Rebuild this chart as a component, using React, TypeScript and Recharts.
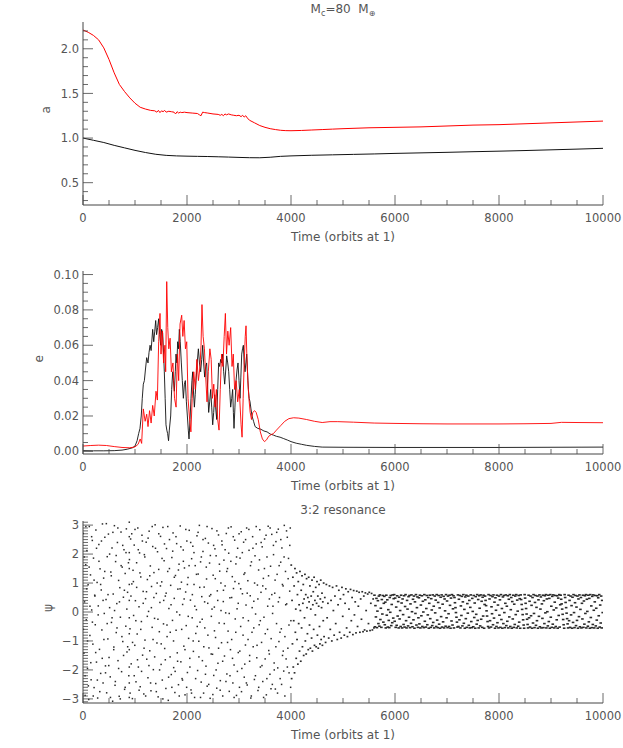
import React from 'react';
import { LineChart, Line, ScatterChart, Scatter, XAxis, YAxis } from 'recharts';

const FONT = '"DejaVu Sans", sans-serif';
const INK = '#555';
const FRAME = '#444';
const DOT = '#2a2a2a';

// time axis (orbits at 1)
const timeTicks = [0, 500, 1000, 1500, 2000, 2500, 3000, 3500, 4000, 4500, 5000, 5500, 6000, 6500, 7000, 7500, 8000, 8500, 9000, 9500, 10000];
const timeLabels = [0, 2000, 4000, 6000, 8000, 10000];

// panel 1: semi-major axis
const aTicks = [0.3, 0.4, 0.5, 0.6, 0.7, 0.8, 0.9, 1.0, 1.1, 1.2, 1.3, 1.4, 1.5, 1.6, 1.7, 1.8, 1.9, 2.0, 2.1, 2.2];
const aLabels = [0.5, 1.0, 1.5, 2.0];
const aOuter: [number, number][] = [
  [0, 2.21], [100, 2.185], [200, 2.15], [300, 2.1], [400, 2.01], [500, 1.88], [600, 1.73], [700, 1.6], [800, 1.52], [900, 1.45],
  [1000, 1.39], [1100, 1.345], [1200, 1.325], [1300, 1.31], [1380, 1.305], [1420, 1.29], [1450, 1.31], [1480, 1.285], [1510, 1.305], [1540, 1.295],
  [1570, 1.31], [1600, 1.29], [1650, 1.3], [1700, 1.295], [1750, 1.29], [1780, 1.27], [1810, 1.295], [1840, 1.28], [1870, 1.29], [1900, 1.285],
  [1950, 1.29], [2000, 1.285], [2100, 1.28], [2200, 1.275], [2240, 1.26], [2270, 1.25], [2300, 1.29], [2340, 1.285], [2400, 1.28], [2500, 1.27],
  [2600, 1.265], [2640, 1.255], [2670, 1.265], [2700, 1.25], [2730, 1.27], [2760, 1.26], [2800, 1.27], [2850, 1.26], [2900, 1.255], [2950, 1.25],
  [3000, 1.255], [3040, 1.24], [3070, 1.255], [3100, 1.235], [3130, 1.25], [3160, 1.225], [3200, 1.2], [3300, 1.17], [3400, 1.14], [3500, 1.12],
  [3600, 1.105], [3700, 1.095], [3800, 1.087], [3900, 1.083], [4000, 1.082], [4200, 1.085], [4400, 1.09], [4600, 1.095], [4800, 1.1], [5000, 1.105],
  [5500, 1.115], [6000, 1.12], [6500, 1.125], [7000, 1.135], [7500, 1.145], [8000, 1.15], [8500, 1.16], [9000, 1.17], [9500, 1.18], [10000, 1.19],
];
const aInner: [number, number][] = [
  [0, 1.0], [200, 0.975], [400, 0.95], [600, 0.918], [800, 0.89], [1000, 0.862], [1200, 0.838], [1400, 0.818], [1600, 0.806], [1800, 0.8],
  [2000, 0.797], [2200, 0.795], [2400, 0.793], [2600, 0.79], [2800, 0.787], [3000, 0.783], [3200, 0.78], [3400, 0.779], [3600, 0.785], [3800, 0.795],
  [4000, 0.8], [4400, 0.807], [4800, 0.812], [5200, 0.817], [5600, 0.822], [6000, 0.828], [6500, 0.834], [7000, 0.84], [7500, 0.847], [8000, 0.853],
  [8500, 0.86], [9000, 0.868], [9500, 0.876], [10000, 0.885],
];

// panel 2: eccentricity
const eTicks = Array.from({ length: 21 }, (_, i) => i * 0.005);
const eLabels = [0, 0.02, 0.04, 0.06, 0.08, 0.1];
const eOuter: [number, number][] = [
  [0, 0.003], [150, 0.0033], [300, 0.0035], [450, 0.0033], [600, 0.0027], [750, 0.0022], [900, 0.002], [1000, 0.0025], [1060, 0.004], [1100, 0.007],
  [1128, 0.0045], [1160, 0.024], [1195, 0.017], [1225, 0.021], [1250, 0.014], [1280, 0.023], [1310, 0.016], [1340, 0.026], [1370, 0.02], [1404, 0.034],
  [1430, 0.029], [1455, 0.062], [1481, 0.078], [1500, 0.055], [1525, 0.068], [1550, 0.05], [1575, 0.06], [1590, 0.045], [1610, 0.096], [1630, 0.07],
  [1650, 0.058], [1675, 0.064], [1700, 0.045], [1730, 0.05], [1760, 0.03], [1790, 0.025], [1815, 0.055], [1840, 0.04], [1866, 0.072], [1898, 0.077],
  [1920, 0.065], [1945, 0.074], [1970, 0.058], [1995, 0.062], [2020, 0.03], [2045, 0.02], [2075, 0.011], [2100, 0.03], [2130, 0.045], [2160, 0.035],
  [2190, 0.052], [2220, 0.04], [2250, 0.048], [2270, 0.06], [2288, 0.083], [2310, 0.065], [2335, 0.058], [2360, 0.042], [2385, 0.028], [2410, 0.045],
  [2440, 0.058], [2465, 0.052], [2490, 0.03], [2515, 0.038], [2540, 0.025], [2565, 0.035], [2590, 0.018], [2616, 0.012], [2640, 0.035], [2665, 0.055],
  [2690, 0.048], [2715, 0.065], [2738, 0.078], [2760, 0.055], [2785, 0.068], [2810, 0.06], [2840, 0.07], [2866, 0.048], [2890, 0.055], [2915, 0.035],
  [2945, 0.04], [2975, 0.028], [3005, 0.035], [3040, 0.015], [3059, 0.008], [3080, 0.03], [3100, 0.05], [3120, 0.065], [3135, 0.071], [3150, 0.055],
  [3170, 0.04], [3190, 0.03], [3215, 0.022], [3240, 0.018], [3265, 0.022], [3300, 0.023], [3330, 0.022], [3370, 0.018], [3410, 0.011], [3450, 0.007],
  [3490, 0.0055], [3530, 0.0065], [3570, 0.0085], [3620, 0.0095], [3660, 0.01], [3720, 0.012], [3800, 0.0145], [3880, 0.017], [3960, 0.0185], [4050, 0.019],
  [4150, 0.0188], [4300, 0.018], [4450, 0.017], [4600, 0.0163], [4750, 0.0168], [4900, 0.0168], [5200, 0.0165], [5600, 0.016], [6000, 0.0158], [6500, 0.0156],
  [7000, 0.0155], [7500, 0.0155], [8000, 0.0155], [8500, 0.0156], [9000, 0.0158], [9200, 0.0164], [9500, 0.0163], [10000, 0.0162],
];
const eInner: [number, number][] = [
  [0, 0.0004], [200, 0.0003], [400, 0.0003], [600, 0.0004], [750, 0.0007], [850, 0.0012], [950, 0.002], [1000, 0.003], [1040, 0.006], [1070, 0.01],
  [1096, 0.013], [1120, 0.02], [1140, 0.03], [1160, 0.038], [1180, 0.04], [1200, 0.046], [1225, 0.053], [1250, 0.05], [1270, 0.056], [1290, 0.06],
  [1310, 0.057], [1325, 0.063], [1340, 0.069], [1360, 0.062], [1380, 0.068], [1398, 0.074], [1415, 0.066], [1435, 0.07], [1455, 0.075], [1475, 0.066],
  [1494, 0.06], [1512, 0.069], [1532, 0.067], [1550, 0.055], [1564, 0.045], [1580, 0.03], [1596, 0.015], [1612, 0.012], [1628, 0.01], [1645, 0.006],
  [1660, 0.012], [1686, 0.02], [1705, 0.035], [1725, 0.045], [1740, 0.04], [1757, 0.034], [1775, 0.045], [1789, 0.055], [1805, 0.05], [1821, 0.062],
  [1838, 0.058], [1853, 0.069], [1870, 0.062], [1891, 0.05], [1910, 0.04], [1930, 0.03], [1950, 0.038], [1968, 0.04], [1988, 0.028], [2007, 0.02],
  [2025, 0.012], [2039, 0.007], [2058, 0.018], [2077, 0.03], [2095, 0.04], [2110, 0.045], [2126, 0.033], [2142, 0.025], [2158, 0.032], [2174, 0.04],
  [2196, 0.05], [2219, 0.058], [2240, 0.05], [2263, 0.045], [2283, 0.052], [2302, 0.06], [2320, 0.05], [2340, 0.042], [2360, 0.048], [2378, 0.05],
  [2398, 0.035], [2417, 0.022], [2436, 0.028], [2455, 0.035], [2475, 0.025], [2494, 0.015], [2513, 0.022], [2532, 0.032], [2550, 0.025], [2571, 0.018],
  [2590, 0.035], [2609, 0.05], [2628, 0.048], [2648, 0.052], [2667, 0.05], [2686, 0.055], [2705, 0.045], [2725, 0.038], [2745, 0.046], [2763, 0.054],
  [2783, 0.05], [2802, 0.045], [2821, 0.035], [2840, 0.025], [2860, 0.03], [2878, 0.035], [2892, 0.022], [2904, 0.013], [2922, 0.025], [2943, 0.04],
  [2962, 0.046], [2981, 0.05], [3000, 0.04], [3020, 0.03], [3036, 0.042], [3052, 0.055], [3068, 0.058], [3084, 0.06], [3100, 0.05], [3116, 0.045],
  [3132, 0.05], [3148, 0.055], [3164, 0.045], [3180, 0.035], [3196, 0.03], [3212, 0.028], [3230, 0.024], [3250, 0.02], [3280, 0.017], [3310, 0.014],
  [3360, 0.013], [3420, 0.0125], [3480, 0.0115], [3540, 0.011], [3600, 0.0098], [3660, 0.0092], [3720, 0.0085], [3790, 0.008], [3860, 0.0072], [3930, 0.0064],
  [4000, 0.0055], [4100, 0.0046], [4200, 0.004], [4300, 0.0034], [4450, 0.0028], [4600, 0.0024], [5000, 0.0023], [6000, 0.0022], [7000, 0.0022], [8000, 0.0022],
  [9000, 0.0023], [10000, 0.0024],
];

// panel 3: resonant angle psi
const psiTicks = Array.from({ length: 63 }, (_, i) => (i - 31) / 10);
const psiLabels = [-3, -2, -1, 0, 1, 2, 3];
const psiCirculating: [number, number][] = [
  [5, 2.71], [18, -1.42], [30, 0.35], [41, -2.88], [52, 1.63], [63, -0.27], [75, 2.12], [86, -1.95], [98, 0.94], [110, -3.02],
  [121, 2.95], [133, -0.81], [144, 1.28], [156, -2.34], [167, 0.07], [179, 2.47], [190, -1.11], [202, 1.86], [213, -2.61], [225, 0.58],
  [236, -0.44], [248, 2.83], [259, -1.73], [271, 1.02], [282, -2.97], [294, 0.21], [305, 2.33], [317, -1.29], [328, 1.49], [340, -2.12],
  [351, 0.76], [363, -0.62], [374, 3.04], [386, -2.45], [397, 1.17], [409, -0.05], [420, 2.58], [432, -1.86], [443, 0.43], [455, -2.79],
  [466, 1.91], [478, -0.93], [489, 2.69], [501, -1.57], [512, 0.15], [524, -2.24], [535, 1.38], [547, -0.36], [558, 2.21], [570, -3.08],
  [581, 0.62], [593, -1.21], [604, 2.98], [616, -2.53], [627, 1.74], [639, -0.71], [650, 0.29], [662, 2.4], [673, -1.68], [685, 1.09],
  [696, -2.91], [708, 0.84], [719, -0.18], [731, 2.76], [742, -2.06], [754, 1.55], [765, -1.02], [777, 0.51], [788, 2.15], [800, -2.67],
  [811, 1.33], [823, -0.49], [834, 2.87], [846, -1.38], [857, 0.68], [881, -2.2], [893, 1.81], [904, -0.58], [916, 2.52], [927, -1.79],
  [890, -2.95], [890, -2.45], [890, -1.9], [890, -1.3], [890, -0.75], [890, -0.2], [890, 0.4], [890, 0.95], [890, 1.5], [890, 2.05], [890, 2.6], [890, 3.1],
  [939, 0.97], [950, -2.99], [962, 1.44], [973, -0.12], [985, 2.31], [996, -1.15], [1008, 0.39], [1019, -2.41], [1031, 1.7], [1042, -0.76],
  [1054, 2.9], [1065, -1.9], [1077, 0.18], [1088, 2.04], [1100, -2.58], [1111, 1.21], [1123, -0.33], [1134, 2.65], [1146, -1.49], [1157, 0.71],
  [1169, -2.83], [1180, 1.98], [1192, -0.97], [1203, 0.46], [1215, 2.41], [1226, -1.63], [1238, 1.12], [1249, -2.27], [1261, 0.02], [1272, 2.79],
  [1284, -1.34], [1295, 1.59], [1307, -2.72], [1318, 0.88], [1330, -0.53], [1341, 2.26], [1353, -1.99], [1364, 1.36], [1376, -0.22], [1387, 3.01],
  [1399, -2.47], [1410, 0.64], [1422, -1.07], [1433, 2.08], [1445, -2.93], [1456, 1.47], [1468, -0.68], [1479, 0.33], [1491, 2.61], [1502, -1.81],
  [1514, 1.04], [1525, -2.35], [1537, 2.92], [1548, -0.41], [1560, 1.77], [1571, -1.26], [1583, 0.55], [1594, -2.64], [1606, 2.19], [1617, -0.85],
  [1629, 1.4], [1640, -3.05], [1652, 0.12], [1663, 2.5], [1675, -1.55], [1686, 0.92], [1698, -2.16], [1709, 1.88], [1721, -0.29], [1732, 2.73],
  [1744, -1.92], [1755, 0.47], [1767, -2.78], [1778, 1.26], [1790, -0.63], [1801, 2.36], [1813, -1.41], [1824, 0.79], [1836, -2.51], [1847, 1.65],
  [1859, -0.1], [1870, 2.97], [1882, -1.72], [1893, 1.03], [1905, -2.3], [1916, 0.26], [1928, 2.14], [1939, -1.18], [1951, 1.52], [1962, -2.86],
  [1974, 0.69], [1985, -0.47], [1997, 2.45], [2008, -2.09], [2020, 1.19], [2031, -0.91], [2043, 2.82], [2054, -1.6], [2066, 0.41], [2077, -2.69],
  [2089, 1.84], [2100, -0.2], [2112, 2.27], [2123, -1.36], [2135, 0.95], [2146, -2.95], [2158, 1.6], [2169, -0.74], [2181, 0.08], [2192, 2.63],
  [2204, -2.02], [2215, 1.31], [2227, -1.01], [2238, 2.99], [2250, -0.35], [2261, 1.73], [2273, -2.42], [2284, 0.53], [2296, -1.68], [2307, 2.09],
  [2319, -2.8], [2330, 0.86], [2342, -0.55], [2353, 2.54], [2365, -1.87], [2376, 1.14], [2388, -2.56], [2399, 0.3], [2411, 2.38], [2422, -1.24],
  [2434, 1.69], [2445, -2.98], [2457, 0.6], [2468, -0.15], [2480, 2.88], [2491, -1.46], [2503, 1.27], [2514, -2.19], [2526, 0.17], [2537, 2.18],
  [2549, -0.88], [2560, 1.94], [2572, -2.63], [2583, 0.73], [2595, -1.77], [2606, 2.66], [2618, -0.38], [2629, 1.41], [2641, -2.37], [2652, 1.0],
  [2664, -1.06], [2675, 2.32], [2687, -2.9], [2698, 0.36], [2710, 1.79], [2721, -1.52], [2733, 0.9], [2744, -0.03], [2756, 2.71], [2767, -2.14],
  [2779, 1.5], [2790, -0.66], [2802, 2.03], [2813, -2.74], [2825, 0.49], [2836, -1.3], [2848, 2.94], [2859, -0.95], [2871, 1.22], [2882, -2.45],
  [2894, 0.81], [2905, -1.83], [2917, 2.48], [2928, -0.24], [2940, 1.66], [2951, -2.88], [2963, 0.11], [2974, 2.2], [2986, -1.4], [2997, 0.98],
  [3009, -2.6], [3020, 1.86], [3032, -0.5], [3043, 2.77], [3055, -1.95], [3066, 0.63], [3078, -0.8], [3089, 2.41], [3101, -2.25], [3112, 1.35],
  [3124, -1.14], [3135, 0.24], [3147, 2.9], [3158, -2.52], [3170, 1.08], [3181, -0.3], [3193, 2.13], [3204, -1.7], [3216, 0.56], [3227, -2.97],
  [3239, 1.73], [3250, -0.7], [3262, 2.6], [3273, -1.2], [3285, 0.37], [3296, -2.33], [3308, 1.94], [3319, -0.07], [3331, 2.35], [3342, -1.58],
  [3354, 0.93], [3365, -2.71], [3377, 1.45], [3388, -0.44], [3400, 2.84], [3411, -1.9], [3423, 0.68], [3434, -1.05], [3446, 2.25], [3457, -2.4],
  [3469, 1.16], [3480, -0.18], [3492, 2.52], [3503, -1.62], [3515, 0.8], [3526, -2.86], [3538, 1.9], [3549, -0.6], [3561, 2.96], [3572, -1.33],
  [3584, 0.45], [3595, -2.15], [3607, 1.58], [3618, -0.92], [3630, 2.68], [3641, -2.5], [3653, 0.2], [3664, 1.98], [3676, -1.76], [3687, 0.65],
  [3699, -2.66], [3710, 2.43], [3722, -0.4], [3733, 1.3], [3745, -1.93], [3756, 2.86], [3768, -1.02], [3779, 0.5], [3791, -2.3], [3802, 1.72],
  [3814, -0.58], [3825, 2.21], [3837, -1.5], [3848, 0.9], [3860, -2.04], [3871, 2.99], [3883, -0.85], [3894, 1.4], [3906, -1.62], [3917, 0.28],
  [3929, 2.58], [3940, -1.25], [3952, 1.85], [3963, -2.1], [3975, 0.72], [3986, 2.9], [3998, -0.3],
  [8, -0.6], [24, 1.9], [40, -2.2], [55, 2.95], [71, 0.8], [87, -1.0], [103, -2.55], [118, 1.55], [134, 0.2], [150, -1.75],
  [166, 2.6], [181, -0.35], [197, -2.9], [213, 1.1], [229, 0.55], [244, -1.4], [260, 2.2], [276, -2.35], [292, -0.1], [307, 1.75],
  [323, -2.75], [339, 0.95], [355, 2.45], [370, -1.6], [386, 0.4], [402, -0.95], [418, 1.4], [433, -2.1], [449, 3.05], [465, -0.4],
  [481, 0.6], [496, -1.85], [512, 2.0], [528, -2.95], [544, 1.25], [559, -0.2], [575, 2.75], [591, -1.3], [607, 0.05], [622, -2.4],
  [638, 1.95], [654, -0.55], [670, 2.9], [685, -1.95], [701, 0.35], [717, -3.0], [733, 1.6], [748, -0.85], [764, 2.3], [780, -1.5],
  [796, 0.75], [811, -2.6], [827, 2.05], [843, 0.1], [859, -1.2], [874, 1.7], [906, -2.8], [922, 0.55], [937, 2.7], [953, -1.05],
  [969, 1.05], [985, -2.2], [1000, 2.85], [1016, -0.3], [1032, 0.85], [1048, -1.65], [1063, 2.15], [1079, -2.7], [1095, 1.35], [1111, -0.6],
  [1126, -2.05], [1142, 2.45], [1158, 0.3], [1174, -1.25], [1189, 1.9], [1205, -2.9], [1221, 0.7], [1237, -0.15], [1252, 2.55], [1268, -1.85],
  [1284, 1.25], [1300, -2.45], [1315, 0.15], [1331, 2.95], [1347, -0.95], [1363, 0.5], [1378, -1.55], [1394, 2.2], [1410, -2.75], [1426, 1.0],
  [1441, -0.25], [1457, 2.7], [1473, -2.0], [1489, 0.9], [1504, -1.1], [1520, 1.85], [1536, -3.0], [1552, 0.4], [1567, 2.35], [1583, -1.65],
  [1599, 0.65], [1615, -0.45], [1630, 2.95], [1646, -2.25], [1662, 1.5], [1678, -0.7], [1693, 0.25], [1709, -2.6], [1725, 2.1], [1741, -1.0],
  [1756, 1.2], [1772, -2.05], [1788, 2.6], [1804, 0.0], [1819, -1.7], [1835, 1.45], [1851, -2.9], [1867, 0.8], [1882, 2.25], [1898, -0.6],
  [1914, -2.35], [1930, 1.75], [1945, 0.45], [1961, -1.3], [1977, 2.85], [1993, -2.6], [2008, 0.95], [2024, -0.15], [2040, 1.6], [2056, -1.9],
  [2071, 2.4], [2087, -2.8], [2103, 0.6], [2119, -1.0], [2134, 2.05], [2150, 0.2], [2166, -2.3], [2182, 1.3], [2197, -0.5], [2213, 2.75],
  [2229, -1.55], [2245, 0.85], [2260, -2.95], [2276, 1.9], [2292, -0.25], [2308, 2.5], [2323, -1.2], [2339, 0.35], [2355, -2.15], [2371, 1.55],
  [2386, 2.95], [2402, -0.8], [2418, -2.5], [2434, 0.55], [2449, 1.95], [2465, -1.45], [2481, 0.1], [2497, -2.85], [2512, 2.3], [2528, -0.65],
  [2544, 1.15], [2560, -2.0], [2575, 2.8], [2591, 0.4], [2607, -1.25], [2623, 1.65], [2638, -2.7], [2654, 0.05], [2670, 2.45], [2686, -1.7],
  [2701, 0.75], [2717, -0.4], [2733, 2.15], [2749, -2.4], [2764, 1.4], [2780, -1.05], [2796, 2.9], [2812, -0.05], [2827, -2.2], [2843, 1.75],
  [2859, 0.5], [2875, -1.6], [2890, 2.6], [2906, -2.95], [2922, 1.05], [2938, -0.7], [2953, 1.9], [2969, -2.05], [2985, 0.3], [3001, 2.7],
  [3016, -1.35], [3032, 0.8], [3048, -2.75], [3064, 2.05], [3079, -0.2], [3095, 1.3], [3111, -1.8], [3127, 2.5], [3142, -2.45], [3158, 0.65],
  [3174, -0.95], [3190, 2.85], [3205, -1.5], [3221, 1.6], [3237, -2.9], [3253, 0.15], [3268, 2.2], [3284, -0.55], [3300, 1.0], [3316, -2.2],
  [3331, 2.95], [3347, -1.15], [3363, 0.45], [3379, -2.6], [3394, 1.8], [3410, -0.3], [3426, 2.4], [3442, -1.85], [3457, 0.9], [3473, -2.95],
  [3489, 1.5], [3505, -0.75], [3520, 2.65], [3536, -2.3], [3552, 0.2], [3568, 1.25], [3583, -1.45], [3599, 2.9], [3615, -2.65], [3631, 0.6],
  [3646, -0.05], [3662, 2.3], [3678, -2.0], [3694, 1.1], [3709, -1.2], [3725, 2.75], [3741, -2.8], [3757, 0.35], [3772, 1.6], [3788, -0.7],
  [3804, 2.5], [3819, -2.5], [3835, 0.95], [3851, -1.35], [3867, 1.9], [3882, -2.9], [3898, 0.25], [3914, 2.8], [3930, -1.9], [3945, 1.15],
  [3961, -0.45], [3977, 2.3], [3993, -2.6],
];
const psiCapture: [number, number][] = [
  [4005, 1.62], [4012, -2.3], [4020, 0.4], [4028, -1.1], [4036, 1.2], [4044, -1.9], [4052, -0.3], [4060, 0.9], [4068, -2.1], [4076, 1.5],
  [4084, -0.7], [4092, 0.1], [4100, -1.6], [4108, 1.35], [4116, -0.95], [4124, 0.6], [4132, -1.8], [4140, 1.05], [4148, -0.4], [4156, 0.25],
  [4164, -1.35], [4172, 1.4], [4180, 0.05], [4188, -1.7], [4196, 0.75], [4204, -0.55], [4212, 1.25], [4220, -1.2], [4228, 0.3], [4236, 0.95],
  [4244, -1.5], [4252, 0.45], [4260, -0.2], [4268, 1.3], [4276, -1.0], [4284, 0.6], [4292, -1.45], [4300, 1.15], [4308, 0.15], [4316, -0.75],
  [4324, 0.5], [4332, -1.3], [4340, 1.2], [4348, 0.35], [4356, -0.45], [4364, 0.9], [4372, -1.25], [4380, 0.1], [4388, 0.55], [4396, -0.9],
  [4404, 1.1], [4412, -1.35], [4420, 0.25], [4428, 0.7], [4436, -0.6], [4444, 1.2], [4452, -1.15], [4460, 0.4], [4468, -0.1], [4476, 0.85],
  [4484, -1.2], [4492, 0.3], [4500, 1.05], [4508, -0.8], [4516, 0.55], [4524, -1.25], [4532, 0.2], [4540, 0.95], [4548, -0.5], [4556, -1.1],
  [4564, 0.45], [4572, 1.1], [4580, -0.95], [4588, 0.15], [4596, 0.65], [4604, -1.15], [4612, 0.35], [4620, -0.3], [4628, 1.0], [4636, -0.85],
  [4650, 0.5], [4665, -1.05], [4680, 0.95], [4695, -0.2], [4710, 0.3], [4725, -0.9], [4740, 0.9], [4755, -0.6], [4770, 0.4], [4785, -1.0],
  [4800, 0.85], [4815, 0.05], [4830, -0.8], [4845, 0.55], [4860, -0.4], [4875, 0.9], [4890, -0.95], [4905, 0.25], [4920, 0.75], [4935, -0.7],
  [4950, 0.45], [4965, -0.9], [4980, 0.85], [4995, -0.15], [5010, 0.6], [5025, -0.8], [5040, 0.3], [5055, 0.8], [5070, -0.55], [5085, -0.85],
  [5100, 0.7], [5115, 0.1], [5130, -0.7], [5145, 0.78], [5160, -0.3], [5175, 0.5], [5190, -0.78], [5205, 0.74], [5220, -0.1], [5235, 0.35],
  [5250, -0.72], [5265, 0.72], [5280, -0.5], [5295, 0.2], [5310, 0.68], [5325, -0.7], [5340, 0.45], [5355, -0.25], [5370, 0.7], [5385, -0.68],
  [5400, 0.55], [5415, -0.62], [5430, 0.66], [5445, 0.05], [5460, -0.66], [5475, 0.62], [5490, -0.4], [5505, 0.68], [5520, -0.64], [5535, 0.3],
  [5550, 0.64], [5565, -0.62], [5580, 0.45], [5595, -0.55],
];
const psiLibrating: [number, number][] = [
  [5605, 0.58], [5614, -0.51], [5624, 0.22], [5633, -0.17], [5643, 0.47], [5652, -0.54], [5662, 0.03], [5671, 0.39], [5681, -0.4], [5690, 0.55],
  [5700, -0.49], [5709, 0.59], [5719, -0.26], [5728, 0.13], [5738, -0.53], [5747, 0.43], [5757, -0.07], [5766, 0.57], [5776, -0.35], [5785, 0.3],
  [5795, 0.54], [5804, -0.44], [5814, 0.34], [5823, -0.55], [5833, 0.58], [5842, -0.11], [5852, 0.42], [5861, -0.52], [5871, 0.08], [5880, -0.29],
  [5890, -0.54], [5899, 0.5], [5909, -0.01], [5918, 0.57], [5928, -0.47], [5937, 0.26], [5947, -0.37], [5956, 0.59], [5966, -0.21], [5975, 0.46],
  [5985, 0.6], [5994, -0.32], [6004, 0.48], [6013, -0.53], [6023, 0.17], [6032, -0.46], [6042, 0.56], [6051, -0.14], [6061, 0.36], [6070, -0.55],
  [6080, 0.51], [6089, -0.24], [6099, 0.05], [6108, -0.5], [6118, 0.58], [6127, 0.31], [6137, -0.55], [6146, 0.45], [6156, -0.09], [6165, -0.43],
  [6175, 0.56], [6184, -0.52], [6194, 0.19], [6203, 0.6], [6213, -0.3], [6222, -0.55], [6232, 0.4], [6241, 0.1], [6251, -0.48], [6260, 0.53],
  [6270, -0.18], [6279, 0.57], [6289, -0.54], [6298, 0.28], [6308, -0.39], [6317, 0.59], [6327, 0.01], [6336, -0.51], [6346, 0.44], [6355, -0.27],
  [6365, 0.55], [6374, -0.56], [6384, 0.35], [6393, -0.05], [6403, 0.6], [6412, -0.45], [6422, 0.15], [6431, 0.52], [6441, -0.53], [6450, -0.2],
  [6460, 0.49], [6469, -0.41], [6479, 0.58], [6488, -0.55], [6498, 0.24], [6507, -0.13], [6517, 0.56], [6526, -0.5], [6536, 0.37], [6545, 0.0],
  [6555, -0.54], [6564, 0.6], [6574, -0.32], [6583, 0.42], [6593, -0.52], [6602, 0.12], [6612, 0.57], [6621, -0.44], [6631, -0.1], [6640, 0.5],
  [6650, -0.56], [6659, 0.3], [6669, 0.58], [6678, -0.23], [6688, -0.53], [6697, 0.46], [6707, 0.07], [6716, -0.47], [6726, 0.59], [6735, -0.36],
  [6745, 0.2], [6754, -0.55], [6764, 0.55], [6773, -0.03], [6783, 0.41], [6792, -0.5], [6802, 0.6], [6811, -0.28], [6821, -0.54], [6830, 0.33],
  [6840, 0.57], [6849, -0.42], [6859, 0.14], [6868, -0.56], [6878, 0.51], [6887, -0.16], [6897, 0.59], [6906, -0.52], [6916, 0.27], [6925, -0.34],
  [6935, 0.54], [6944, -0.55], [6954, 0.45], [6963, 0.04], [6973, -0.49], [6982, 0.6], [6992, -0.2], [7001, 0.38], [7011, -0.54], [7020, 0.55],
  [7030, -0.06], [7039, -0.5], [7049, 0.58], [7058, 0.23], [7068, -0.56], [7077, 0.48], [7087, -0.31], [7096, 0.6], [7106, -0.45], [7115, 0.11],
  [7125, 0.56], [7134, -0.55], [7144, 0.5], [7153, 0.32], [7163, 0.15], [7172, -0.02], [7182, -0.18], [7191, -0.35], [7201, -0.52], [7210, 0.59],
  [7220, -0.5], [7229, 0.44], [7239, -0.27], [7248, 0.57], [7258, -0.55], [7267, 0.21], [7277, -0.12], [7286, 0.54], [7296, -0.48], [7305, 0.35],
  [7315, 0.6], [7324, -0.39], [7334, 0.09], [7343, -0.56], [7353, 0.52], [7362, -0.23], [7372, 0.58], [7381, -0.53], [7391, 0.29], [7400, -0.04],
  [7410, 0.55], [7419, -0.46], [7429, 0.4], [7438, -0.55], [7448, 0.16], [7457, 0.59], [7467, -0.33], [7476, -0.54], [7486, 0.47], [7495, 0.02],
  [7505, -0.51], [7514, 0.57], [7524, -0.19], [7533, 0.31], [7543, -0.56], [7552, 0.53], [7562, -0.08], [7571, -0.42], [7581, 0.6], [7590, -0.29],
  [7600, 0.43], [7609, -0.55], [7619, 0.56], [7628, 0.13], [7638, -0.48], [7647, 0.59], [7657, -0.25], [7666, 0.37], [7676, -0.53], [7685, 0.51],
  [7695, -0.14], [7704, 0.58], [7714, -0.56], [7723, 0.26], [7733, 0.55], [7742, 0.4], [7752, 0.22], [7761, 0.04], [7771, -0.14], [7780, -0.33],
  [7790, -0.5], [7799, 0.6], [7809, -0.55], [7818, 0.45], [7828, -0.3], [7837, 0.57], [7847, -0.52], [7856, 0.18], [7866, -0.06], [7875, 0.53],
  [7885, -0.44], [7894, 0.59], [7904, -0.21], [7913, 0.34], [7923, -0.56], [7932, 0.49], [7942, 0.06], [7951, -0.5], [7961, 0.58], [7970, -0.37],
  [7980, 0.24], [7989, -0.55], [7999, 0.55], [8008, -0.11], [8018, 0.42], [8027, -0.53], [8037, 0.6], [8046, -0.26], [8056, 0.12], [8065, -0.56],
  [8075, 0.52], [8084, -0.4], [8094, 0.57], [8103, -0.02], [8113, -0.54], [8122, 0.3], [8132, 0.59], [8141, -0.47], [8151, 0.2], [8160, -0.32],
  [8170, 0.56], [8179, -0.55], [8189, 0.44], [8198, -0.17], [8208, 0.6], [8217, -0.5], [8227, 0.08], [8236, 0.5], [8246, -0.56], [8255, 0.36],
  [8265, -0.24], [8274, 0.58], [8284, -0.53], [8293, 0.27], [8303, -0.43], [8312, 0.55], [8322, -0.09], [8331, 0.6], [8341, -0.55], [8350, 0.41],
  [8360, 0.03], [8369, -0.49], [8379, 0.57], [8388, -0.35], [8398, 0.46], [8407, -0.56], [8417, 0.59], [8426, 0.43], [8436, 0.26], [8445, 0.09],
  [8455, -0.09], [8464, -0.27], [8474, -0.45], [8483, -0.56], [8493, 0.6], [8502, 0.48], [8512, 0.3], [8521, 0.12], [8531, -0.07], [8540, -0.25],
  [8550, -0.43], [8559, -0.55], [8569, 0.58], [8578, -0.2], [8588, 0.37], [8597, -0.52], [8607, 0.55], [8616, -0.13], [8626, 0.23], [8635, -0.56],
  [8645, 0.5], [8654, -0.38], [8664, 0.6], [8673, -0.05], [8683, -0.54], [8692, 0.33], [8702, 0.57], [8711, -0.46], [8721, 0.16], [8730, -0.3],
  [8740, 0.55], [8749, -0.56], [8759, 0.42], [8768, -0.15], [8778, 0.59], [8787, -0.51], [8797, 0.1], [8806, 0.52], [8816, -0.55], [8825, 0.28],
  [8835, -0.22], [8844, 0.58], [8854, -0.54], [8863, 0.39], [8873, -0.4], [8882, 0.56], [8892, -0.03], [8901, 0.6], [8911, -0.55], [8920, 0.45],
  [8930, 0.01], [8939, -0.48], [8949, 0.58], [8958, -0.33], [8968, 0.47], [8977, -0.56], [8987, 0.6], [8996, -0.18], [9006, 0.2], [9015, -0.53],
  [9025, 0.54], [9034, -0.42], [9044, 0.59], [9053, 0.07], [9063, -0.55], [9072, 0.34], [9082, 0.57], [9091, -0.5], [9101, 0.14], [9110, -0.27],
  [9120, 0.56], [9129, -0.56], [9139, 0.48], [9148, -0.12], [9158, 0.6], [9167, -0.52], [9177, 0.25], [9186, 0.58], [9196, 0.44], [9205, 0.28],
  [9215, 0.1], [9224, -0.08], [9234, -0.26], [9243, -0.44], [9253, -0.56], [9262, 0.6], [9272, 0.5], [9281, 0.33], [9291, 0.15], [9300, -0.04],
  [9310, -0.23], [9319, -0.41], [9329, -0.55], [9338, 0.58], [9348, -0.3], [9357, 0.4], [9367, -0.53], [9376, 0.55], [9386, -0.1], [9395, 0.22],
  [9405, -0.56], [9414, 0.51], [9424, -0.36], [9433, 0.6], [9443, -0.02], [9452, -0.54], [9462, 0.32], [9471, 0.57], [9481, -0.47], [9490, 0.17],
  [9500, -0.29], [9509, 0.55], [9519, -0.56], [9528, 0.45], [9538, -0.16], [9547, 0.59], [9557, -0.51], [9566, 0.09], [9576, 0.5], [9585, -0.55],
  [9595, 0.3], [9604, -0.24], [9614, 0.58], [9623, -0.53], [9633, 0.38], [9642, -0.42], [9652, 0.56], [9661, -0.05], [9671, 0.6], [9680, -0.55],
  [9690, 0.44], [9699, 0.02], [9709, -0.49], [9718, 0.58], [9728, -0.34], [9737, 0.47], [9747, -0.56], [9756, 0.6], [9766, -0.19], [9775, 0.21],
  [9785, -0.54], [9794, 0.54], [9804, -0.43], [9813, 0.59], [9823, 0.06], [9832, -0.55], [9842, 0.35], [9851, 0.57], [9861, -0.48], [9870, 0.13],
  [9880, -0.28], [9889, 0.56], [9899, -0.56], [9908, 0.49], [9918, -0.13], [9927, 0.6], [9937, -0.52], [9946, 0.24], [9956, -0.38], [9965, 0.55],
  [9975, -0.55], [9984, 0.4], [9994, -0.02],
];

const toRows = (pts: [number, number][]) => pts.map(([t, v]) => ({ t, v }));
const isIn = (list: number[], v: number) => list.some((m) => Math.abs(m - v) < 1e-9);
const minus = (s: string) => s.replace('-', '\u2212');

const textStyle = { fontFamily: FONT, fontSize: 11.5, fill: INK };

// IDL-style frame: ticks point inward on all four sides, labels only bottom/left
const bottomTick = (labels: number[]) => (p: any) => {
  const major = isIn(labels, p.payload.value);
  return (
    <g>
      <line x1={p.x} x2={p.x} y1={p.y} y2={p.y - (major ? 10 : 5)} stroke={FRAME} strokeWidth={0.8} />
      {major && (
        <text x={p.x} y={p.y + 17} textAnchor="middle" {...textStyle}>
          {p.payload.value}
        </text>
      )}
    </g>
  );
};
const topTick = (labels: number[]) => (p: any) => {
  const major = isIn(labels, p.payload.value);
  return <line x1={p.x} x2={p.x} y1={p.y} y2={p.y + (major ? 10 : 5)} stroke={FRAME} strokeWidth={0.8} />;
};
const leftTick = (labels: number[], fmt: (v: number) => string) => (p: any) => {
  const major = isIn(labels, p.payload.value);
  return (
    <g>
      <line x1={p.x} x2={p.x + (major ? 10 : 5)} y1={p.y} y2={p.y} stroke={FRAME} strokeWidth={0.8} />
      {major && (
        <text x={p.x - 4} y={p.y} dy="0.36em" textAnchor="end" {...textStyle}>
          {minus(fmt(p.payload.value))}
        </text>
      )}
    </g>
  );
};
const rightTick = (labels: number[]) => (p: any) => {
  const major = isIn(labels, p.payload.value);
  return <line x1={p.x} x2={p.x - (major ? 10 : 5)} y1={p.y} y2={p.y} stroke={FRAME} strokeWidth={0.8} />;
};

type FrameOpts = {
  yDomain: [number, number];
  yTicks: number[];
  yLabels: number[];
  yFmt: (v: number) => string;
  yTitle: string;
  yTitleOffset: number;
  xHeight: number;
  xTitleOffset: number;
};

function frameAxes(o: FrameOpts) {
  const line = { stroke: FRAME, strokeWidth: 1 };
  return [
    <XAxis
      key="xb"
      xAxisId={0}
      type="number"
      dataKey="t"
      domain={[0, 10000]}
      allowDataOverflow
      ticks={timeTicks}
      interval={0}
      height={o.xHeight}
      tickSize={0}
      tickMargin={0}
      tickLine={false}
      axisLine={line}
      tick={bottomTick(timeLabels)}
      label={{ value: 'Time (orbits at 1)', position: 'insideBottom', offset: o.xTitleOffset, fill: INK, fontSize: 12, fontFamily: FONT }}
    />,
    <XAxis
      key="xt"
      xAxisId="top"
      orientation="top"
      type="number"
      domain={[0, 10000]}
      allowDataOverflow
      ticks={timeTicks}
      interval={0}
      height={0}
      tickSize={0}
      tickMargin={0}
      tickLine={false}
      axisLine={line}
      tick={topTick(timeLabels)}
    />,
    <YAxis
      key="yl"
      yAxisId={0}
      type="number"
      dataKey="v"
      domain={o.yDomain}
      allowDataOverflow
      ticks={o.yTicks}
      interval={0}
      width={50}
      tickSize={0}
      tickMargin={0}
      tickLine={false}
      axisLine={line}
      tick={leftTick(o.yLabels, o.yFmt)}
      label={{ value: o.yTitle, angle: -90, position: 'insideLeft', offset: o.yTitleOffset, fill: INK, fontSize: 12, fontFamily: FONT }}
    />,
    <YAxis
      key="yr"
      yAxisId="right"
      orientation="right"
      type="number"
      domain={o.yDomain}
      allowDataOverflow
      ticks={o.yTicks}
      interval={0}
      width={0}
      tickSize={0}
      tickMargin={0}
      tickLine={false}
      axisLine={line}
      tick={rightTick(o.yLabels)}
    />,
  ];
}

const dotShape = (w: number, h: number) => (p: any) => (
  <rect x={p.cx - w / 2} y={p.cy - h / 2} width={w} height={h} fill={DOT} />
);

const titleStyle = (top: number): React.CSSProperties => ({
  position: 'absolute',
  left: 83,
  width: 520,
  top,
  textAlign: 'center',
  fontFamily: FONT,
  fontSize: 12,
  lineHeight: '14px',
  color: INK,
  whiteSpace: 'pre',
});
const subStyle: React.CSSProperties = { fontSize: 8, position: 'relative', top: 3, verticalAlign: 'baseline' };

export default function App() {
  return (
    <div style={{ position: 'absolute', left: 0, top: 0, width: 623, height: 748, background: '#fff' }}>
      <div style={titleStyle(2)}>
        M<span style={subStyle}>c</span>=80  M<span style={subStyle}>⊕</span>
      </div>
      <div style={{ position: 'absolute', left: 0, top: 0 }}>
        <LineChart width={623} height={250} margin={{ top: 22, right: 20, bottom: 0, left: 33 }}>
          {frameAxes({
            yDomain: [0.25, 2.3],
            yTicks: aTicks,
            yLabels: aLabels,
            yFmt: (v) => v.toFixed(1),
            yTitle: 'a',
            yTitleOffset: 13,
            xHeight: 45,
            xTitleOffset: 9,
          })}
          <Line data={toRows(aInner)} dataKey="v" stroke="#111" strokeWidth={1} dot={false} isAnimationActive={false} />
          <Line data={toRows(aOuter)} dataKey="v" stroke="#ff0000" strokeWidth={1} dot={false} isAnimationActive={false} />
        </LineChart>
      </div>
      <div style={{ position: 'absolute', left: 0, top: 250 }}>
        <LineChart width={623} height={245} margin={{ top: 21, right: 20, bottom: 0, left: 33 }}>
          {frameAxes({
            yDomain: [-0.0015, 0.102],
            yTicks: eTicks,
            yLabels: eLabels,
            yFmt: (v) => v.toFixed(2),
            yTitle: 'e',
            yTitleOffset: 6,
            xHeight: 41,
            xTitleOffset: 5,
          })}
          <Line data={toRows(eInner)} dataKey="v" stroke="#111" strokeWidth={0.9} dot={false} isAnimationActive={false} />
          <Line data={toRows(eOuter)} dataKey="v" stroke="#ff0000" strokeWidth={0.9} dot={false} isAnimationActive={false} />
        </LineChart>
      </div>
      <div style={titleStyle(503)}>3:2 resonance</div>
      <div style={{ position: 'absolute', left: 0, top: 495 }}>
        <ScatterChart width={623} height={253} margin={{ top: 26, right: 20, bottom: 0, left: 33 }}>
          {frameAxes({
            yDomain: [-Math.PI, Math.PI],
            yTicks: psiTicks,
            yLabels: psiLabels,
            yFmt: (v) => String(v),
            yTitle: 'ψ',
            yTitleOffset: 15,
            xHeight: 45,
            xTitleOffset: 9,
          })}
          <Scatter data={toRows(psiCirculating)} shape={dotShape(1.5, 1.5)} isAnimationActive={false} />
          <Scatter data={toRows(psiCapture)} shape={dotShape(1.8, 1.6)} isAnimationActive={false} />
          <Scatter data={toRows(psiLibrating)} shape={dotShape(2.6, 1.6)} isAnimationActive={false} />
        </ScatterChart>
      </div>
    </div>
  );
}
